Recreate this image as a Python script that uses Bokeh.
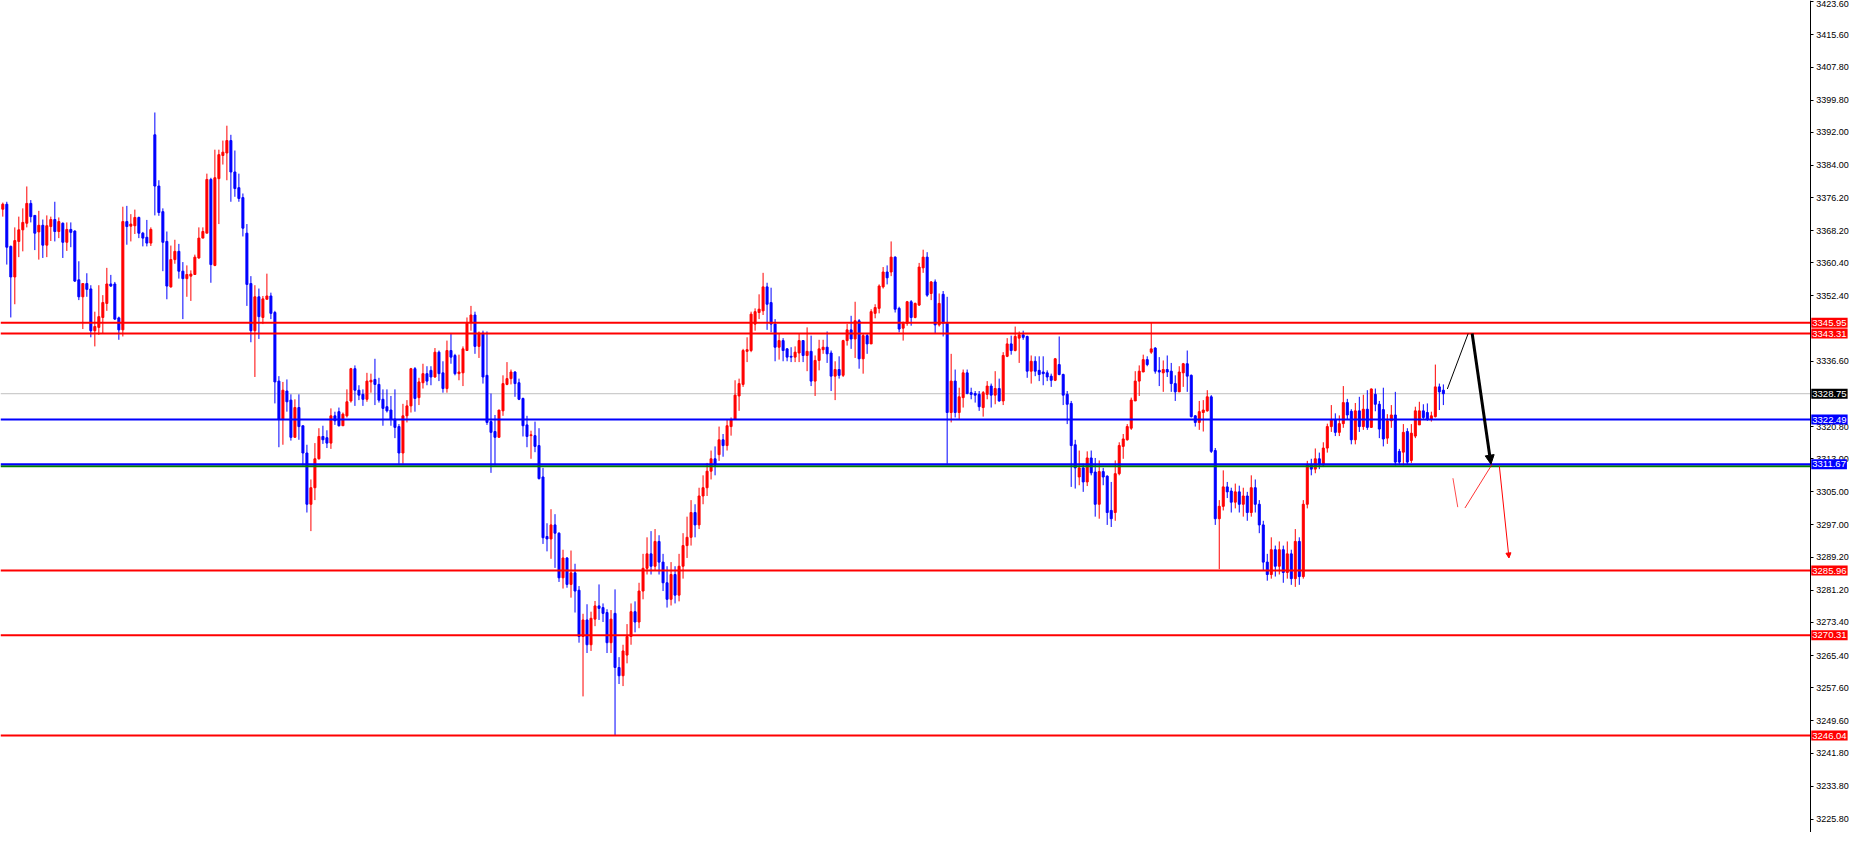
from bokeh.plotting import figure
from bokeh.models import (Range1d, Label, FixedTicker, PrintfTickFormatter, LinearAxis,
                          Arrow, NormalHead, ColumnDataSource)
from bokeh.embed import file_html
from bokeh.resources import INLINE

# ---------------- data ----------------
opens = [
    3373.4, 3374.6, 3364.4, 3357.0, 3365.6, 3368.4, 3370.0, 3374.8, 3371.9, 3367.9,
    3369.5, 3364.7, 3369.2, 3370.9, 3368.0, 3370.0, 3365.4, 3368.5, 3368.1, 3356.3,
    3352.2, 3355.4, 3354.1, 3344.0, 3344.8, 3347.2, 3350.6, 3355.3, 3355.3, 3347.1,
    3344.2, 3370.4, 3369.3, 3369.4, 3371.4, 3367.6, 3366.6, 3365.2, 3391.4, 3379.0,
    3372.8, 3365.6, 3354.6, 3361.2, 3363.2, 3358.4, 3356.6, 3357.2, 3357.6, 3361.6,
    3366.4, 3367.6, 3380.6, 3359.8, 3380.8, 3386.4, 3387.0, 3390.0, 3382.4, 3378.6,
    3376.2, 3367.6, 3355.4, 3344.0, 3352.2, 3347.2, 3351.6, 3352.4, 3348.4, 3331.8,
    3322.6, 3329.4, 3327.2, 3318.2, 3325.4, 3321.0, 3314.4, 3302.0, 3306.0, 3313.0,
    3318.4, 3318.1, 3316.8, 3323.4, 3324.4, 3321.0, 3323.4, 3327.0, 3334.8, 3329.6,
    3328.6, 3327.4, 3331.6, 3332.2, 3331.0, 3327.4, 3325.6, 3324.8, 3322.6, 3320.8,
    3314.4, 3323.4, 3325.8, 3334.8, 3327.8, 3331.4, 3333.6, 3334.4, 3332.8, 3338.8,
    3333.8, 3330.0, 3339.2, 3338.0, 3333.6, 3333.8, 3339.2, 3346.0, 3347.8, 3340.2,
    3343.4, 3333.2, 3322.0, 3319.6, 3318.2, 3324.6, 3331.0, 3332.4, 3334.0, 3331.4,
    3327.6, 3321.2, 3318.6, 3318.6, 3316.2, 3308.6, 3294.2, 3293.6, 3297.0, 3295.0,
    3284.2, 3289.0, 3282.6, 3285.4, 3281.2, 3270.0, 3274.0, 3268.0, 3274.2, 3277.4,
    3277.0, 3275.8, 3268.5, 3275.6, 3262.5, 3260.5, 3265.5, 3270.0, 3276.0, 3273.5,
    3281.0, 3286.5, 3290.0, 3287.0, 3293.0, 3288.0, 3283.0, 3279.0, 3285.0, 3280.0,
    3287.0, 3292.0, 3294.0, 3300.0, 3297.0, 3304.0, 3306.0, 3310.0, 3313.0, 3314.0,
    3317.6, 3316.2, 3320.8, 3322.6, 3328.2, 3331.0, 3339.0, 3339.2, 3345.6, 3348.4,
    3348.8, 3354.6, 3350.8, 3345.6, 3340.0, 3341.6, 3339.6, 3337.8, 3337.6, 3338.6,
    3341.6, 3338.0, 3339.0, 3331.8, 3336.8, 3339.4, 3340.0, 3338.6, 3333.0, 3334.6,
    3333.2, 3341.6, 3344.2, 3342.0, 3346.4, 3337.2, 3342.8, 3340.8, 3348.2, 3349.4,
    3354.6, 3358.2, 3358.2, 3361.8, 3349.4, 3344.6, 3345.8, 3351.0, 3347.2, 3350.2,
    3359.2, 3361.8, 3353.0, 3355.8, 3345.4, 3352.8, 3345.8, 3324.2, 3331.8, 3324.2,
    3327.8, 3333.8, 3329.0, 3328.8, 3328.6, 3325.4, 3328.6, 3330.6, 3328.4, 3330.0,
    3327.0, 3337.8, 3340.8, 3339.2, 3342.2, 3343.0, 3342.6, 3334.2, 3336.6, 3334.4,
    3334.0, 3333.8, 3333.0, 3332.0, 3335.8, 3333.4, 3328.6, 3326.4, 3316.4, 3308.6,
    3310.8, 3307.4, 3313.2, 3309.8, 3302.0, 3309.9, 3308.8, 3300.5, 3300.0, 3309.4,
    3316.0, 3317.6, 3320.4, 3327.0, 3331.8, 3334.0, 3337.0, 3338.8, 3339.8, 3334.4,
    3333.8, 3334.6, 3334.2, 3331.2, 3329.2, 3333.8, 3336.0, 3333.2, 3323.4, 3321.8,
    3324.2, 3324.6, 3328.0, 3315.0, 3298.5, 3301.5, 3306.2, 3305.2, 3302.5, 3305.0,
    3302.0, 3304.0, 3300.0, 3306.0, 3302.0, 3297.0, 3288.0, 3285.0, 3291.0, 3287.0,
    3291.0, 3285.5, 3290.0, 3284.0, 3293.0, 3284.5, 3302.0, 3311.5, 3310.5, 3313.0,
    3311.5, 3315.6, 3320.8, 3322.5, 3319.4, 3321.5, 3326.6, 3324.5, 3317.6, 3324.6,
    3320.8, 3325.0, 3320.6, 3328.6, 3326.2, 3324.9, 3318.0, 3322.2, 3323.6, 3314.8,
    3314.6, 3319.6, 3312.6, 3318.5, 3321.2, 3324.6, 3324.2, 3322.6, 3323.2, 3330.4,
    3329.6,
]
highs = [
    3375.0, 3375.2, 3364.6, 3369.0, 3371.6, 3373.6, 3378.9, 3375.6, 3371.9, 3373.0,
    3370.9, 3371.9, 3371.6, 3375.2, 3371.4, 3370.2, 3370.2, 3370.2, 3368.3, 3360.8,
    3355.4, 3357.9, 3355.0, 3348.6, 3355.0, 3352.6, 3359.2, 3357.5, 3355.8, 3347.4,
    3374.0, 3374.2, 3372.2, 3373.3, 3371.6, 3367.9, 3370.8, 3369.0, 3396.8, 3380.4,
    3373.6, 3368.0, 3364.6, 3366.0, 3365.0, 3360.6, 3359.8, 3358.6, 3362.4, 3369.0,
    3369.0, 3382.0, 3381.0, 3387.8, 3387.8, 3390.0, 3393.6, 3391.4, 3387.6, 3382.0,
    3377.2, 3369.8, 3357.2, 3355.0, 3354.2, 3352.4, 3357.8, 3353.2, 3348.8, 3333.0,
    3331.6, 3332.2, 3328.6, 3327.4, 3328.6, 3321.0, 3316.4, 3308.0, 3316.8, 3320.4,
    3321.0, 3319.9, 3325.2, 3324.4, 3325.4, 3324.2, 3329.8, 3335.0, 3335.6, 3330.8,
    3329.8, 3333.8, 3333.6, 3337.2, 3332.6, 3329.8, 3329.8, 3328.2, 3329.8, 3321.4,
    3326.3, 3327.2, 3335.0, 3335.2, 3332.6, 3336.0, 3335.4, 3335.4, 3339.8, 3339.2,
    3336.6, 3341.6, 3343.2, 3338.4, 3338.2, 3340.2, 3347.2, 3350.0, 3348.6, 3343.8,
    3344.0, 3343.8, 3328.8, 3323.6, 3324.8, 3333.2, 3336.4, 3334.6, 3334.2, 3332.4,
    3327.8, 3323.4, 3319.8, 3322.0, 3320.4, 3310.8, 3297.4, 3300.8, 3299.6, 3295.2,
    3291.0, 3289.2, 3290.8, 3287.6, 3282.2, 3275.5, 3277.8, 3276.0, 3278.6, 3282.6,
    3278.0, 3276.6, 3276.4, 3281.4, 3265.0, 3268.0, 3273.0, 3278.0, 3278.5, 3283.0,
    3290.0, 3294.0, 3295.5, 3296.0, 3294.5, 3290.0, 3287.0, 3288.0, 3287.0, 3290.0,
    3295.0, 3299.0, 3303.0, 3302.0, 3306.0, 3309.0, 3312.0, 3315.0, 3316.0, 3320.8,
    3319.0, 3322.4, 3323.0, 3332.0, 3332.4, 3339.6, 3342.4, 3348.6, 3349.4, 3352.8,
    3358.0, 3355.6, 3354.4, 3346.8, 3343.4, 3342.2, 3339.8, 3340.0, 3340.2, 3343.4,
    3341.6, 3344.8, 3342.8, 3338.0, 3341.8, 3341.8, 3343.8, 3339.2, 3336.6, 3337.8,
    3341.8, 3345.6, 3347.6, 3351.0, 3346.8, 3343.2, 3343.4, 3349.2, 3350.4, 3355.2,
    3359.4, 3359.8, 3365.6, 3362.0, 3349.8, 3346.2, 3351.2, 3351.4, 3350.8, 3360.4,
    3363.6, 3363.0, 3356.0, 3356.4, 3353.0, 3353.6, 3352.2, 3338.4, 3334.6, 3330.2,
    3334.6, 3334.6, 3330.2, 3329.4, 3329.4, 3329.4, 3331.8, 3331.2, 3334.2, 3332.4,
    3338.8, 3342.2, 3342.8, 3345.0, 3343.8, 3344.0, 3342.8, 3338.0, 3337.8, 3337.8,
    3337.8, 3334.4, 3333.6, 3337.4, 3342.6, 3333.6, 3329.4, 3327.0, 3317.6, 3315.0,
    3311.8, 3314.8, 3315.0, 3313.2, 3312.6, 3310.8, 3309.0, 3307.4, 3312.6, 3317.0,
    3319.0, 3321.4, 3327.8, 3334.2, 3335.6, 3338.2, 3337.8, 3346.0, 3340.0, 3337.6,
    3336.8, 3338.0, 3336.2, 3333.2, 3335.4, 3336.2, 3339.2, 3333.4, 3323.6, 3327.0,
    3327.2, 3329.6, 3328.4, 3315.6, 3303.0, 3310.2, 3307.4, 3306.0, 3307.0, 3306.5,
    3306.0, 3305.0, 3309.0, 3308.0, 3303.0, 3298.0, 3290.0, 3294.0, 3292.0, 3293.0,
    3292.0, 3293.0, 3291.0, 3296.0, 3294.0, 3303.0, 3312.5, 3313.0, 3315.5, 3314.5,
    3317.0, 3321.5, 3326.0, 3324.0, 3323.5, 3330.6, 3327.5, 3325.0, 3326.5, 3328.0,
    3328.5, 3329.6, 3330.0, 3330.0, 3327.0, 3330.2, 3323.8, 3326.0, 3329.2, 3315.4,
    3321.4, 3320.4, 3321.4, 3325.6, 3326.8, 3326.2, 3326.4, 3324.4, 3335.8, 3331.2,
    3331.0,
]
lows = [
    3371.6, 3360.0, 3347.2, 3350.4, 3361.8, 3363.2, 3369.0, 3370.2, 3363.5, 3361.2,
    3361.6, 3361.8, 3365.7, 3365.6, 3366.4, 3361.6, 3363.3, 3364.2, 3355.8, 3351.4,
    3344.4, 3352.2, 3342.4, 3340.2, 3343.0, 3343.4, 3348.8, 3354.6, 3346.6, 3341.8,
    3342.6, 3364.8, 3365.6, 3367.4, 3366.4, 3364.4, 3364.4, 3364.5, 3371.9, 3371.8,
    3358.4, 3351.6, 3354.4, 3360.2, 3356.6, 3346.8, 3352.2, 3351.2, 3357.6, 3361.4,
    3366.4, 3367.6, 3355.6, 3359.6, 3369.8, 3384.2, 3380.4, 3375.2, 3376.4, 3375.2,
    3366.8, 3350.0, 3341.2, 3332.8, 3342.0, 3345.6, 3351.6, 3346.8, 3326.4, 3315.8,
    3316.4, 3324.4, 3317.4, 3318.2, 3317.6, 3311.4, 3300.0, 3295.5, 3303.0, 3312.8,
    3316.6, 3315.6, 3315.4, 3321.2, 3320.8, 3321.0, 3323.0, 3326.6, 3325.8, 3327.2,
    3325.8, 3326.8, 3329.0, 3326.0, 3326.6, 3321.0, 3324.2, 3321.0, 3318.0, 3311.8,
    3311.8, 3321.8, 3324.2, 3324.4, 3326.0, 3330.0, 3330.8, 3330.8, 3332.6, 3331.8,
    3329.0, 3329.0, 3336.0, 3333.2, 3332.0, 3330.6, 3339.2, 3344.0, 3338.4, 3337.4,
    3331.2, 3321.2, 3309.6, 3311.4, 3318.2, 3323.4, 3330.8, 3331.0, 3328.0, 3327.2,
    3318.4, 3315.8, 3313.0, 3314.6, 3308.0, 3292.4, 3290.6, 3288.8, 3286.6, 3283.2,
    3281.6, 3281.8, 3279.4, 3275.8, 3268.5, 3255.5, 3266.0, 3266.5, 3272.5, 3274.0,
    3273.5, 3266.0, 3266.0, 3246.0, 3258.5, 3258.0, 3263.5, 3268.0, 3271.0, 3272.0,
    3279.0, 3285.0, 3285.0, 3286.0, 3285.0, 3281.0, 3277.0, 3277.5, 3278.0, 3278.5,
    3284.0, 3289.0, 3292.0, 3294.0, 3296.0, 3302.0, 3304.0, 3308.0, 3309.0, 3312.5,
    3313.5, 3315.0, 3318.6, 3322.4, 3324.6, 3330.4, 3336.4, 3338.8, 3344.0, 3346.8,
    3347.8, 3344.2, 3343.6, 3336.6, 3337.0, 3336.6, 3336.6, 3336.4, 3336.4, 3336.4,
    3336.4, 3334.2, 3330.6, 3328.2, 3334.4, 3338.4, 3336.2, 3329.4, 3327.2, 3332.4,
    3332.8, 3340.4, 3339.6, 3337.4, 3334.8, 3333.6, 3338.4, 3340.8, 3347.0, 3348.2,
    3354.2, 3355.2, 3357.2, 3348.4, 3343.6, 3341.6, 3345.2, 3345.2, 3347.0, 3350.0,
    3358.0, 3352.2, 3351.4, 3343.4, 3345.0, 3342.6, 3311.8, 3321.8, 3323.0, 3322.6,
    3325.4, 3328.6, 3327.4, 3326.6, 3324.6, 3323.2, 3327.4, 3325.4, 3326.2, 3326.8,
    3326.0, 3337.6, 3338.2, 3339.0, 3336.2, 3341.8, 3332.6, 3331.2, 3333.0, 3331.8,
    3330.8, 3331.8, 3330.4, 3331.8, 3333.2, 3326.0, 3321.4, 3306.2, 3305.8, 3306.6,
    3305.0, 3306.4, 3309.0, 3299.0, 3298.5, 3306.6, 3297.0, 3296.5, 3298.0, 3309.0,
    3313.0, 3317.4, 3320.0, 3327.0, 3328.2, 3334.0, 3335.4, 3338.4, 3333.6, 3330.6,
    3329.2, 3332.8, 3329.2, 3327.0, 3329.2, 3330.4, 3329.2, 3323.0, 3320.8, 3320.0,
    3319.6, 3324.4, 3314.4, 3297.0, 3286.3, 3300.5, 3303.5, 3300.0, 3301.0, 3300.0,
    3299.0, 3298.0, 3299.0, 3300.0, 3295.0, 3286.0, 3283.5, 3284.0, 3284.5, 3285.0,
    3283.0, 3284.0, 3282.5, 3282.0, 3282.5, 3284.0, 3301.0, 3309.0, 3309.5, 3310.5,
    3311.0, 3314.5, 3319.5, 3318.5, 3318.5, 3320.5, 3322.5, 3316.5, 3316.5, 3319.5,
    3320.0, 3320.0, 3320.5, 3324.5, 3318.0, 3316.0, 3316.6, 3320.5, 3311.4, 3311.5,
    3311.4, 3311.6, 3312.0, 3318.0, 3321.2, 3322.4, 3322.2, 3322.0, 3323.0, 3324.8,
    3326.0,
]
closes = [
    3374.6, 3364.2, 3357.0, 3365.8, 3368.4, 3370.2, 3374.8, 3371.6, 3367.6, 3369.5,
    3364.7, 3369.4, 3370.9, 3368.0, 3370.4, 3365.4, 3368.5, 3367.8, 3356.0, 3352.2,
    3355.4, 3354.0, 3344.0, 3345.0, 3347.4, 3350.8, 3355.3, 3354.8, 3346.8, 3344.2,
    3370.4, 3369.2, 3369.8, 3371.4, 3367.6, 3366.4, 3365.2, 3368.5, 3379.0, 3372.6,
    3365.4, 3354.8, 3361.2, 3363.2, 3358.4, 3356.6, 3357.6, 3357.7, 3361.8, 3366.4,
    3368.0, 3380.6, 3360.0, 3381.0, 3386.6, 3387.2, 3390.0, 3382.4, 3378.4, 3376.0,
    3368.8, 3355.2, 3344.0, 3352.2, 3347.4, 3351.7, 3352.4, 3348.2, 3331.6, 3322.6,
    3329.6, 3326.8, 3318.2, 3325.4, 3320.8, 3314.4, 3302.0, 3306.0, 3313.0, 3318.4,
    3317.6, 3316.8, 3323.4, 3322.2, 3321.0, 3323.8, 3326.8, 3334.8, 3329.6, 3328.4,
    3327.4, 3331.8, 3332.0, 3331.0, 3327.2, 3325.2, 3324.6, 3322.6, 3320.6, 3314.4,
    3323.4, 3325.8, 3334.8, 3327.6, 3331.6, 3333.6, 3331.8, 3332.8, 3338.8, 3333.6,
    3330.0, 3339.2, 3337.6, 3333.6, 3334.0, 3339.6, 3346.0, 3347.8, 3340.2, 3343.4,
    3332.8, 3321.8, 3319.4, 3318.2, 3324.8, 3331.2, 3332.4, 3334.0, 3331.2, 3327.4,
    3321.0, 3318.4, 3318.8, 3316.0, 3308.2, 3293.9, 3293.6, 3297.0, 3295.0, 3284.2,
    3289.0, 3282.6, 3285.4, 3281.0, 3270.0, 3274.0, 3268.0, 3274.4, 3277.4, 3276.8,
    3275.6, 3268.5, 3274.2, 3262.5, 3260.5, 3266.5, 3270.0, 3276.0, 3273.5, 3281.0,
    3286.5, 3290.0, 3287.0, 3293.0, 3288.0, 3283.0, 3279.0, 3285.0, 3280.0, 3287.0,
    3292.0, 3294.0, 3300.0, 3297.0, 3304.0, 3306.0, 3310.0, 3313.0, 3311.5, 3317.6,
    3316.2, 3321.0, 3322.4, 3328.4, 3331.2, 3339.2, 3339.4, 3348.0, 3348.6, 3349.2,
    3354.6, 3350.4, 3345.6, 3340.0, 3341.6, 3339.2, 3337.6, 3337.6, 3338.8, 3341.6,
    3338.0, 3339.0, 3331.8, 3336.8, 3339.6, 3340.0, 3338.4, 3333.0, 3334.6, 3333.2,
    3341.6, 3344.2, 3342.0, 3346.4, 3337.2, 3342.8, 3340.8, 3348.6, 3349.6, 3354.8,
    3358.2, 3356.8, 3361.8, 3349.2, 3344.4, 3345.8, 3351.0, 3347.2, 3350.6, 3359.4,
    3361.8, 3352.6, 3355.8, 3345.4, 3350.6, 3345.8, 3324.2, 3331.8, 3324.2, 3328.0,
    3333.8, 3328.8, 3328.6, 3328.4, 3325.6, 3329.0, 3330.6, 3328.4, 3330.0, 3327.0,
    3338.0, 3340.8, 3339.2, 3342.6, 3343.0, 3342.4, 3334.2, 3336.6, 3334.2, 3333.4,
    3333.6, 3332.8, 3332.0, 3337.2, 3333.4, 3328.4, 3326.2, 3316.2, 3310.8, 3310.8,
    3307.4, 3313.2, 3309.6, 3302.0, 3309.9, 3308.6, 3300.0, 3298.5, 3309.4, 3316.2,
    3317.8, 3320.8, 3327.2, 3331.8, 3334.2, 3337.0, 3335.8, 3339.6, 3334.2, 3334.0,
    3334.6, 3334.0, 3331.2, 3329.2, 3334.0, 3336.0, 3333.0, 3323.2, 3321.8, 3324.4,
    3324.8, 3328.0, 3314.8, 3298.5, 3301.5, 3306.2, 3305.0, 3302.5, 3305.0, 3302.0,
    3304.0, 3300.0, 3306.0, 3302.0, 3297.0, 3288.0, 3285.0, 3291.0, 3287.0, 3291.0,
    3285.5, 3290.0, 3284.0, 3293.0, 3284.5, 3302.0, 3311.5, 3310.5, 3313.0, 3311.5,
    3315.6, 3320.8, 3322.5, 3319.4, 3321.5, 3326.6, 3323.6, 3317.6, 3324.6, 3320.8,
    3325.0, 3320.6, 3329.9, 3326.2, 3320.2, 3317.8, 3322.2, 3323.6, 3312.2, 3312.2,
    3319.4, 3312.2, 3319.2, 3324.6, 3324.6, 3323.0, 3322.6, 3323.4, 3330.4, 3329.2,
    3328.75,
]

# horizontal levels drawn on the chart
red_levels = [3345.95, 3343.31, 3285.96, 3270.31, 3246.04]
blue_levels = [3322.49, 3311.67]
green_level = 3311.2
bid_price = 3328.75

# price-axis tick labels
tick_values = [3423.60, 3415.60, 3407.80, 3399.80, 3392.00, 3384.00, 3376.20, 3368.20,
               3360.40, 3352.40, 3336.60, 3320.80, 3313.00, 3305.00, 3297.00, 3289.20,
               3281.20, 3273.40, 3265.40, 3257.60, 3249.60, 3241.80, 3233.80, 3225.80]

# hand-drawn projection lines (bar index, price)
black_path_x = [361.0, 366.2]
black_path_y = [3329.9, 3343.3]
black_arrow = [367.2, 3343.3, 371.9, 3311.7]
red_short_x = [362.4, 363.6]
red_short_y = [3308.3, 3301.3]
red_path_x = [365.4, 372.2]
red_path_y = [3301.1, 3311.7]
red_arrow = [374.0, 3311.2, 376.4, 3289.0]

# ---------------- figure ----------------
RED = "#ff0000"
BLUE = "#0000ff"
X0 = -0.575          # left edge of the chart (bar units)
AXIS_X = 451.7       # where the price scale sits
X1 = 462.5           # right edge of the canvas

p = figure(width=1853, height=832, output_backend="svg", toolbar_location=None,
           x_range=Range1d(X0, X1), y_range=Range1d(3222.57, 3423.9),
           x_axis_location=None, y_axis_location=None,
           min_border_left=0, min_border_top=0, min_border_bottom=0, min_border_right=0,
           background_fill_color="white", border_fill_color="white")
p.outline_line_color = None
p.xgrid.visible = False
p.ygrid.visible = False

ax = LinearAxis(fixed_location=AXIS_X)
ax.ticker = FixedTicker(ticks=tick_values)
ax.formatter = PrintfTickFormatter(format="%.2f")
ax.major_label_text_font = "Liberation Sans"
ax.major_label_text_font_size = "9px"
ax.major_label_text_color = "black"
ax.axis_line_color = "black"
ax.axis_line_width = 1
ax.major_tick_out = 3
ax.major_tick_in = 0
ax.minor_tick_out = 0
ax.minor_tick_in = 0
ax.major_tick_line_color = "black"
ax.major_label_standoff = 3
p.add_layout(ax, "right")

# bid line behind candles
p.segment(x0=[X0], x1=[AXIS_X], y0=[bid_price], y1=[bid_price],
          line_color="#c0c0c0", line_width=1)

idx = list(range(len(closes)))
colors = [RED if c >= o else BLUE for o, c in zip(opens, closes)]
src = ColumnDataSource(dict(
    x=idx, o=opens, h=highs, l=lows, c=closes,
    top=[max(o, c) for o, c in zip(opens, closes)],
    bottom=[min(o, c) for o, c in zip(opens, closes)],
    color=colors))

p.segment(x0="x", y0="h", x1="x", y1="l", color="color", line_width=1, source=src)
p.vbar(x="x", width=0.5, top="top", bottom="bottom", fill_color="color",
       line_color="color", line_width=1, source=src)

# horizontal levels (stop at the price scale)
p.segment(x0=[X0], x1=[AXIS_X], y0=[green_level], y1=[green_level],
          line_color="#008000", line_width=2)
p.segment(x0=[X0] * len(blue_levels), x1=[AXIS_X] * len(blue_levels),
          y0=blue_levels, y1=blue_levels, line_color=BLUE, line_width=2)
p.segment(x0=[X0] * len(red_levels), x1=[AXIS_X] * len(red_levels),
          y0=red_levels, y1=red_levels, line_color=RED, line_width=2)

# projection drawings
p.line(black_path_x, black_path_y, line_color="black", line_width=1)
p.add_layout(Arrow(x_start=black_arrow[0], y_start=black_arrow[1],
                   x_end=black_arrow[2], y_end=black_arrow[3],
                   line_color="black", line_width=3,
                   end=NormalHead(size=9, fill_color="black", line_color="black")))
p.line(red_short_x, red_short_y, line_color=RED, line_width=1, line_alpha=0.7)
p.line(red_path_x, red_path_y, line_color=RED, line_width=1, line_alpha=0.8)
p.add_layout(Arrow(x_start=red_arrow[0], y_start=red_arrow[1],
                   x_end=red_arrow[2], y_end=red_arrow[3],
                   line_color=RED, line_width=1,
                   end=NormalHead(size=5, fill_color=RED, line_color=RED)))

# price tags on the scale
tags = [(lv, RED) for lv in red_levels] + [(lv, BLUE) for lv in blue_levels] + [(bid_price, "black")]
for lv, col in tags:
    p.add_layout(Label(x=AXIS_X, y=lv, x_offset=1, text="%.2f" % lv,
                       text_font="Liberation Sans", text_font_size="9.5px",
                       text_color="white", text_align="left", text_baseline="middle",
                       background_fill_color=col, background_fill_alpha=1.0,
                       padding=(1, 2)))

open("out.html", "w").write(file_html(p, INLINE))
